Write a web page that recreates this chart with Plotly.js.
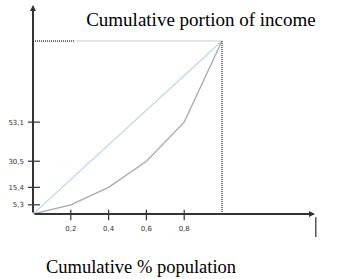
<!DOCTYPE html>
<html>
<head>
<meta charset="utf-8">
<script src="https://cdn.plot.ly/plotly-3.0.1.min.js"></script>
<style>html,body{margin:0;padding:0;background:#fff;}#chart{width:355px;height:279px;}</style>
</head>
<body>
<div id="chart"></div>
<script>
// Data
const population = [0, 0.2, 0.4, 0.6, 0.8, 1.0];
const incomeShare = [0, 5.3, 15.4, 30.5, 53.1, 100];
const equalityX = [0, 1.0];
const equalityY = [0, 100];
const xTickVals = [0.2, 0.4, 0.6, 0.8];
const xTickText = ['0,2', '0,4', '0,6', '0,8'];
const yTickVals = [5.3, 15.4, 30.5, 53.1];
const yTickText = ['5,3', '15,4', '30,5', '53,1'];

const X_MAX = 1.492, Y_MAX = 120.8;
const axisColor = '#333';

const traces = [
  {x: equalityX, y: equalityY, mode: 'lines', line: {color: '#bcd5ec', width: 1.2}, hoverinfo: 'skip'},
  {x: population, y: incomeShare, mode: 'lines', line: {color: '#a9a9a9', width: 1.3}, hoverinfo: 'skip'}
];

const shapes = [];
yTickVals.forEach(v => shapes.push({type: 'line', xref: 'paper', yref: 'y', x0: -0.018, x1: 0.025, y0: v, y1: v, line: {color: axisColor, width: 1.2}}));
xTickVals.forEach(v => shapes.push({type: 'line', xref: 'x', yref: 'paper', x0: v, x1: v, y0: -0.03, y1: 0.02, line: {color: axisColor, width: 1.2}}));
shapes.push({type: 'line', xref: 'x', yref: 'y', x0: 1.0, x1: 1.0, y0: -3.5, y1: 100, line: {color: '#444', width: 1.4, dash: '1px,1px'}});
shapes.push({type: 'line', xref: 'x', yref: 'y', x0: 0, x1: 0.22, y0: 100, y1: 100, line: {color: '#444', width: 1.3, dash: '1px,1px'}});
shapes.push({type: 'line', xref: 'x', yref: 'y', x0: 0.23, x1: 1.0, y0: 100, y1: 100, line: {color: '#999', width: 1, dash: '1px,1px'}});
shapes.push({type: 'line', xref: 'paper', yref: 'paper', x0: 1.003, x1: 1.003, y0: -0.015, y1: -0.11, line: {color: '#000', width: 1}});

const annotations = [
  {x: 0, y: Y_MAX, ax: 0, ay: 0, xref: 'x', yref: 'y', axref: 'x', ayref: 'y', text: '', showarrow: true, arrowhead: 2, arrowsize: 0.6, arrowwidth: 2, arrowcolor: axisColor},
  {x: X_MAX, y: 0, ax: 0, ay: 0, xref: 'x', yref: 'y', axref: 'x', ayref: 'y', text: '', showarrow: true, arrowhead: 2, arrowsize: 0.6, arrowwidth: 2, arrowcolor: axisColor},
  {x: 0.383, y: -0.254, xref: 'paper', yref: 'paper', text: 'Cumulative % population', showarrow: false, xanchor: 'center', yanchor: 'middle', font: {family: 'Liberation Serif', size: 18.5, color: '#000'}}
];

const layout = {
  width: 355, height: 279,
  margin: {l: 33, r: 40, t: 5, b: 65},
  paper_bgcolor: '#fff', plot_bgcolor: '#fff',
  showlegend: false,
  title: {text: 'Cumulative portion of income', xref: 'container', yref: 'container', x: 0.566, y: 0.932, xanchor: 'center', yanchor: 'middle', font: {family: 'Liberation Serif', size: 19, color: '#000'}},
  xaxis: {range: [0, X_MAX], showgrid: false, zeroline: false, showline: false, tickmode: 'array', tickvals: xTickVals, ticktext: xTickText, ticks: '', ticklabelstandoff: 9, tickfont: {family: 'DejaVu Sans', size: 7, color: '#333'}, fixedrange: true},
  yaxis: {range: [0, Y_MAX], showgrid: false, zeroline: false, showline: false, tickmode: 'array', tickvals: yTickVals, ticktext: yTickText, ticks: '', ticklabelstandoff: 8, tickfont: {family: 'DejaVu Sans', size: 7, color: '#333'}, fixedrange: true},
  shapes: shapes,
  annotations: annotations
};

Plotly.newPlot('chart', traces, layout, {displayModeBar: false, staticPlot: true});
</script>
</body>
</html>
